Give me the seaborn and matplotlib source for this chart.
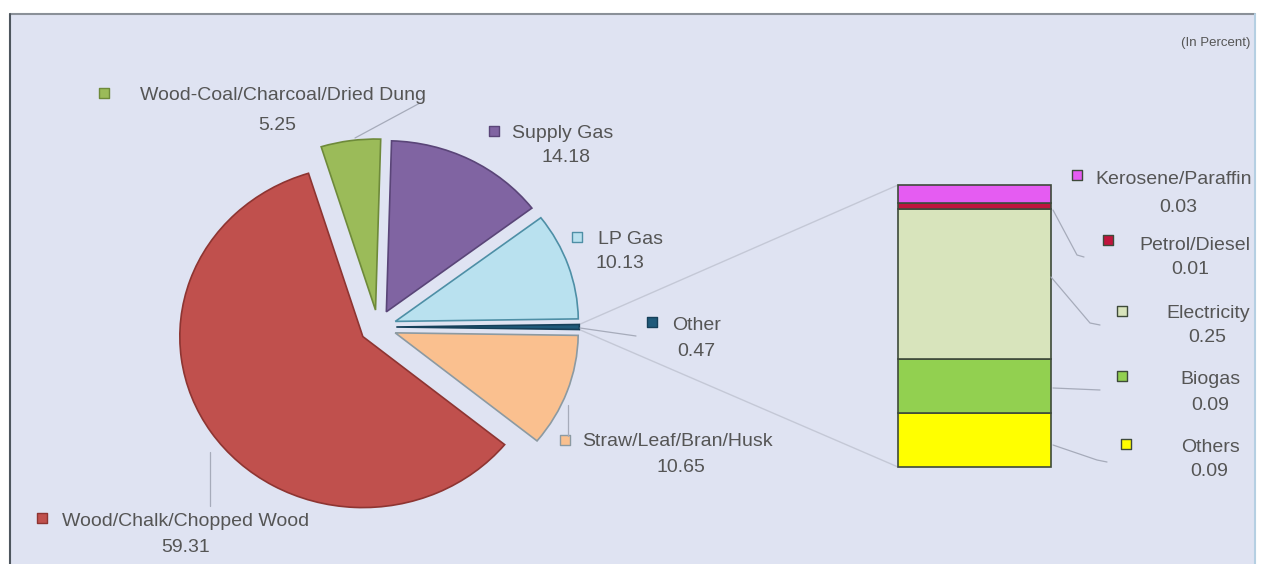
import matplotlib
matplotlib.use("Agg")
import matplotlib.pyplot as plt
import seaborn as sns
import numpy as np
from matplotlib.patches import Rectangle, ConnectionPatch

# ---------------- data ----------------
pie_labels = ["Other", "LP Gas", "Supply Gas", "Wood-Coal/Charcoal/Dried Dung",
              "Wood/Chalk/Chopped Wood", "Straw/Leaf/Bran/Husk"]
pie_values = [0.47, 10.13, 14.18, 5.25, 59.31, 10.65]
pie_value_text = ["0.47", "10.13", "14.18", "5.25", "59.31", "10.65"]

bar_labels = ["Others", "Biogas", "Electricity", "Petrol/Diesel", "Kerosene/Paraffin"]
bar_values = [0.09, 0.09, 0.25, 0.01, 0.03]
bar_value_text = ["0.09", "0.09", "0.25", "0.01", "0.03"]

# ---------------- style ----------------
sns.set_theme(style="white")
plt.rcParams['font.family'] = ['Liberation Sans', 'DejaVu Sans']

pie_colors = sns.color_palette(["#1F5A7A", "#B9E1EF", "#8064A2", "#9BBB59", "#C0504D", "#FAC08F"])
pie_edges = ["#16405A", "#4E8FA6", "#5A4578", "#6E8A3A", "#8E3532", "#8C9AA2"]
bar_colors = sns.color_palette(["#FFFF00", "#92D050", "#D8E4BC", "#C0143C", "#E55CF2"])
bar_edge = "#3E4A3A"
bg = "#DFE3F2"
txt_col = "#555555"
line_col = "#A6ABBA"

W, H = 1261, 564
fig = plt.figure(figsize=(W / 100, H / 100), dpi=100)
fig.patch.set_facecolor("white")

# background / frame (pixel coordinates)
ov = fig.add_axes([0, 0, 1, 1], zorder=0)
ov.set_xlim(0, W); ov.set_ylim(H, 0); ov.axis("off")
ov.add_patch(Rectangle((10, 14), 1245, 550, facecolor=bg, edgecolor="none"))
ov.plot([10, 1255], [14, 14], color="#8A9098", lw=1.5)
ov.plot([10, 10], [14, 564], color="#4E565E", lw=1.5)
ov.plot([1255, 1255], [14, 564], color="#B5CFE2", lw=1.5)

# ---------------- pie (slightly elliptical as in reference) ----------------
cx, cy, rx, ry = 378, 327, 183, 171
lim = 1.3
pax = fig.add_axes([(cx - lim * rx) / W, (H - cy - lim * ry) / H,
                    2 * lim * rx / W, 2 * lim * ry / H], zorder=1)
total = sum(pie_values)
start = -pie_values[0] / total * 360 / 2
wedges, _ = pax.pie(pie_values, colors=pie_colors, explode=[0.1] * len(pie_values),
                    startangle=start, counterclock=True,
                    wedgeprops=dict(linewidth=1.2))
for w, ec in zip(wedges, pie_edges):
    w.set_edgecolor(ec)
pax.set_aspect("auto")
pax.set_xlim(-lim, lim); pax.set_ylim(-lim, lim)
pax.set_facecolor("none"); pax.axis("off")

# ---------------- stacked bar of "Other" ----------------
bx0, bx1, by0, by1 = 898, 1051, 185, 467
bax = fig.add_axes([bx0 / W, (H - by1) / H, (bx1 - bx0) / W, (by1 - by0) / H], zorder=1)
bottom = 0.0
for v, c in zip(bar_values, bar_colors):
    bax.bar(0, v, bottom=bottom, width=1.0, color=c, edgecolor=bar_edge,
            linewidth=1.2, clip_on=False)
    bottom += v
bax.set_xlim(-0.5, 0.5); bax.set_ylim(0, sum(bar_values))
bax.set_facecolor("none"); bax.axis("off")

# connectors pie -> bar
half = np.deg2rad(pie_values[0] / total * 360 / 2)
for sgn, ytop in [(1, sum(bar_values)), (-1, 0)]:
    p = (0.1 + np.cos(half), sgn * np.sin(half))
    con = ConnectionPatch(xyA=p, coordsA=pax.transData, xyB=(-0.5, ytop),
                          coordsB=bax.transData, color="#C4C8D6", lw=1.0, zorder=0.5)
    fig.add_artist(con)

# ---------------- labels (pixel layout) ----------------
an = fig.add_axes([0, 0, 1, 1], zorder=3)
an.set_xlim(0, W); an.set_ylim(H, 0); an.axis("off")

fs = 14
# name, value text, color, marker(x,y), name center x, name y, value center x, value y
pie_layout = {
    "Wood-Coal/Charcoal/Dried Dung": ((104, 93), 283, 96, 277, 125),
    "Supply Gas": ((494, 131), 563, 133, 566, 158),
    "LP Gas": ((577, 237), 630, 239, 620, 264),
    "Other": ((652, 322), 697, 326, 696, 351),
    "Straw/Leaf/Bran/Husk": ((565, 440), 677, 442, 681, 467),
    "Wood/Chalk/Chopped Wood": ((42, 518), 186, 522, 186, 548),
}
bar_layout = {
    "Kerosene/Paraffin": ((1077, 175), 1174, 180, 1178, 208),
    "Petrol/Diesel": ((1108, 240), 1195, 245, 1190, 270),
    "Electricity": ((1122, 311), 1208, 313, 1207, 338),
    "Biogas": ((1122, 376), 1210, 380, 1210, 405),
    "Others": ((1126, 444), 1211, 448, 1209, 472),
}


def put_label(name, val, color, edge, lay):
    (mx, my), nx, ny, vx, vy = lay
    an.scatter([mx], [my], marker="s", s=60, color=color, edgecolors=edge, linewidths=1.0)
    an.text(nx, ny, name, ha="center", va="center", fontsize=fs, color=txt_col)
    an.text(vx, vy, val, ha="center", va="center", fontsize=fs, color=txt_col)


for n, v, c, e in zip(pie_labels, pie_value_text, pie_colors, pie_edges):
    put_label(n, v, c, e, pie_layout[n])
for n, v, c in zip(bar_labels, bar_value_text, bar_colors):
    put_label(n, v, c, bar_edge, bar_layout[n])

# leader lines
leaders = [
    [(355, 138), (420, 103)],
    [(580, 328), (636, 336)],
    [(568, 405), (568, 436)],
    [(210, 452), (210, 506)],
    [(1053, 210), (1077, 255), (1084, 257)],
    [(1051, 277), (1090, 323), (1100, 325)],
    [(1053, 388), (1100, 390)],
    [(1053, 445), (1097, 460), (1107, 462)],
]
for seg in leaders:
    xs, ys = zip(*seg)
    an.plot(xs, ys, color=line_col, lw=0.9)

an.text(1250, 43, "(In Percent)", ha="right", va="center", fontsize=9.5, color=txt_col)

fig.savefig("out.png", dpi=100, facecolor=fig.get_facecolor())
